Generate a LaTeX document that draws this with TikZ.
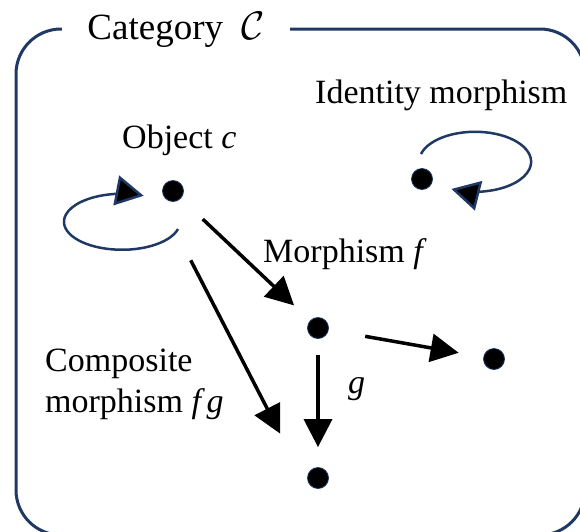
\documentclass[tikz,border=0pt]{standalone}
\usepackage{fontspec}
\setmainfont{Liberation Serif}
\usepackage{graphicx}
\usepackage{tikz}
\usetikzlibrary{arrows.meta, positioning}
\definecolor{catnavy}{RGB}{31,56,100}

\begin{document}
\begin{tikzpicture}[
    x=1pt, y=-1pt,
    obj/.style={
        circle, draw=catnavy, thick,
        fill=black, inner sep=0pt,
        minimum size=21pt
    },
    lbl/.style={
        font=\fontsize{34}{41}\selectfont,
        inner sep=0pt
    },
    arr/.style={-{Triangle[length=28pt,width=28pt]},
        line width=3.5pt, black},
    idloop/.style={-{Triangle[length=28pt,width=30pt,fill=black]},
        line width=2.5pt, catnavy}
]
\useasboundingbox (0,0) rectangle (580,531);
\draw[catnavy, line width=3pt, rounded corners=45pt]
    (16,29) rectangle (585,535);
\node[lbl, font=\fontsize{37}{41}\selectfont, fill=white, anchor=west,
    inner xsep=0pt, inner ysep=8pt, minimum width=228pt]
    (title) at (62,30) {Category\ \ \scalebox{1.6}{$\mathcal{C}$}};

\node[obj] (objc) at (173,191) {};
\node[obj] (objid) at (422,179) {};
\node[obj] (objm) at (318,328) {};
\node[obj] (objr) at (494,359) {};
\node[obj] (objb) at (318,478) {};

\node[lbl, anchor=base west] (idlbl) at (315,103) {Identity morphism};
\node[lbl, anchor=base west] (objlbl) at (122,148) {Object \textit{c}};
\node[lbl, anchor=base west] (flbl) at (263,262) {Morphism \textit{f}};
\node[lbl, anchor=base west] (glbl) at (348,393) {\textit{g}};
\node[lbl, anchor=north west, align=left] (complbl) at (45,349)
    {Composite\\morphism \textit{f\,g}};

\draw[idloop] (objc.center) ++(5,38)
    arc[start angle=15, end angle=292, x radius=58, y radius=28];
\draw[idloop] (objid.center) ++(-1,-25)
    arc[start angle=195, end angle=475, x radius=56, y radius=30];

\draw[arr, shorten <=30pt, shorten >=22pt] (objc) -- (objm);
\draw[arr, shorten <=78pt, shorten >=50pt]
    ([xshift=-18pt]objc.center) -- ([xshift=-15pt]objb.center);
\draw[arr, shorten <=16pt, shorten >=20pt] (objm) -- (objb);
\draw[arr, shorten <=37pt, shorten >=25pt] (objm) -- (objr);
\end{tikzpicture}
\end{document}
